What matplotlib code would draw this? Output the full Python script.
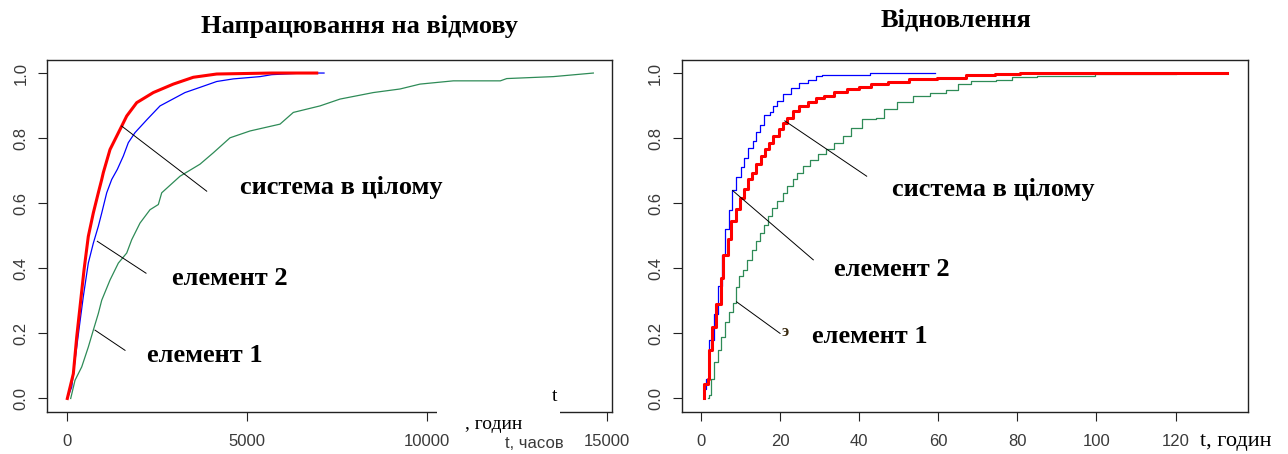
import numpy as np
import matplotlib.pyplot as plt
from matplotlib.patches import Rectangle

# ---- left panel: time to failure (ECDF), hours ----
sys_t = [0, 167, 261, 353, 464, 583, 722, 861, 956, 1000, 1186, 1511, 1650, 1928, 2389, 2944,
         3500, 4150, 5678, 6928]
sys_F = [0, 0.076, 0.189, 0.282, 0.395, 0.498, 0.57, 0.632, 0.673, 0.694, 0.765, 0.837, 0.868,
         0.909, 0.940, 0.966, 0.987, 0.997, 1.0, 1.0]

el2_t = [0, 122, 214, 333, 444, 583, 722, 861, 956, 1094, 1233, 1389, 1556, 1694, 1881, 2222,
         2575, 3269, 3686, 4150, 4611, 5353, 5678, 6556, 7131]
el2_F = [0, 0.035, 0.117, 0.22, 0.313, 0.416, 0.477, 0.529, 0.57, 0.632, 0.673, 0.704, 0.745,
         0.786, 0.817, 0.858, 0.899, 0.94, 0.956, 0.974, 0.982, 0.989, 0.995, 1.0, 1.0]

el1_t = [94, 214, 400, 583, 722, 861, 956, 1186, 1417, 1650, 1789, 2019, 2297, 2528, 2622, 3131,
         3686, 4056, 4519, 5075, 5908, 6278, 7019, 7575, 8500, 9242, 9797, 10722, 12028, 12206,
         13500, 14611]
el1_F = [0, 0.056, 0.097, 0.158, 0.21, 0.261, 0.302, 0.364, 0.416, 0.447, 0.488, 0.539, 0.58,
         0.596, 0.632, 0.683, 0.72, 0.755, 0.801, 0.822, 0.843, 0.879, 0.899, 0.92, 0.94, 0.951,
         0.966, 0.976, 0.976, 0.983, 0.989, 1.0]

# ---- right panel: recovery time (ECDF steps), hours ----
rsys_t = [0.8, 1.8, 2.0, 2.9, 3.9, 5.0, 5.6, 6.8, 7.6, 8.9, 9.9, 10.8, 11.8, 12.9, 13.9, 15.2, 16.2,
          17.3, 18.3, 19.7, 20.7, 21.7, 23.3, 24.9, 27, 29, 31.1, 33.7, 36.9, 40, 43.1, 47.3, 52.5,
          59.8, 67.1, 74.4, 80.7, 133]
rsys_F = [0.046, 0.06, 0.15, 0.22, 0.29, 0.37, 0.44, 0.49, 0.545, 0.583, 0.617, 0.644, 0.673, 0.694,
          0.72, 0.745, 0.766, 0.786, 0.805, 0.827, 0.846, 0.863, 0.884, 0.899, 0.91, 0.922, 0.93,
          0.942, 0.95, 0.958, 0.966, 0.973, 0.981, 0.986, 0.993, 0.996, 1.0, 1.0]

rel2_t = [0.7, 1.3, 2.1, 3.2, 4.2, 5.3, 6.0, 7.0, 7.8, 8.8, 10.2, 10.9, 12, 13.1, 14, 14.9, 15.9, 17.5,
          18.3, 19.1, 20.7, 22.8, 24.9, 27, 29, 30.6, 42.7, 59.1]
rel2_F = [0.03, 0.06, 0.18, 0.26, 0.345, 0.44, 0.52, 0.58, 0.64, 0.68, 0.71, 0.74, 0.77, 0.79, 0.82,
          0.84, 0.87, 0.88, 0.90, 0.915, 0.935, 0.955, 0.97, 0.98, 0.99, 0.994, 1.0, 1.0]

rel1_t = [1.9, 2.1, 2.5, 3.4, 4.2, 5.0, 6.0, 7.0, 8.1, 8.9, 9.6, 10.7, 11.7, 12.8, 13.8, 14.9, 15.9, 17,
          18, 19.1, 20.7, 21.7, 23.3, 24.4, 25.9, 27.5, 29.6, 31.7, 33.7, 35.8, 37.9, 40.6, 44.2, 46.3,
          49.5, 53.7, 57.8, 62, 65.1, 68.3, 74.5, 78.7, 85, 99.6, 120]
rel1_F = [0.0, 0.01, 0.06, 0.113, 0.15, 0.19, 0.236, 0.267, 0.293, 0.342, 0.375, 0.396, 0.427, 0.457,
          0.483, 0.509, 0.534, 0.56, 0.586, 0.606, 0.632, 0.653, 0.673, 0.694, 0.714, 0.732, 0.75,
          0.766, 0.786, 0.807, 0.832, 0.858, 0.863, 0.889, 0.91, 0.93, 0.94, 0.949, 0.966, 0.976,
          0.978, 0.987, 0.992, 0.996, 0.996]

red = '#ff0000'
blue = '#0000ff'
green = '#2e8b57'
tick_col = '#3a3a3a'
serif = 'Liberation Serif'
sans = 'Liberation Sans'

fig = plt.figure(figsize=(12.88, 4.54), dpi=100)
ax1 = fig.add_axes([0.0365, 0.0936, 0.4387, 0.7742])
ax2 = fig.add_axes([0.5295, 0.0936, 0.4394, 0.7742])


def style(ax):
    for s in ax.spines.values():
        s.set_color('#222222')
        s.set_linewidth(1.0)
    ax.tick_params(direction='out', length=6.5, width=0.8, color='#222222',
                   labelsize=12, labelcolor=tick_col)
    ax.tick_params(axis='x', pad=10)
    ax.tick_params(axis='y', pad=7)
    ax.set_yticks([0, 0.2, 0.4, 0.6, 0.8, 1.0])
    ax.set_yticklabels(['0.0', '0.2', '0.4', '0.6', '0.8', '1.0'], rotation=90, va='center',
                       family=sans)
    for lab in ax.get_xticklabels():
        lab.set_family(sans)
    ax.set_ylim(-0.04, 1.04)


# left
ax1.plot(el1_t, el1_F, color=green, lw=0.9)
ax1.plot(el2_t, el2_F, color=blue, lw=0.9)
ax1.plot(sys_t, sys_F, color=red, lw=2.2)
ax1.set_xlim(-564, 15131)
ax1.set_xticks([0, 5000, 10000, 15000])
style(ax1)
ax1.plot([1511, 3872], [0.837, 0.637], color='black', lw=0.7)
ax1.plot([833, 2186], [0.483, 0.385], color='black', lw=0.7)
ax1.plot([769, 1603], [0.21, 0.148], color='black', lw=0.7)
ax1.text(4797, 0.647, 'система в цілому', family=serif, weight='bold', size=19, va='center')
ax1.text(2900, 0.369, 'елемент 2', family=serif, weight='bold', size=19, va='center')
ax1.text(2222, 0.133, 'елемент 1', family=serif, weight='bold', size=19, va='center')

# gap in the bottom frame with axis caption
ax1.add_patch(Rectangle((0.690, -0.012), 0.217, 0.024, transform=ax1.transAxes,
                        facecolor='white', edgecolor='none', clip_on=False, zorder=5))
ax1.text(0.894, 0.044, 't', transform=ax1.transAxes, family=serif, size=14, va='center', zorder=6)
ax1.text(0.740, -0.038, ', годин', transform=ax1.transAxes, family=serif, size=14, va='center',
         zorder=6)
ax1.text(0.811, -0.09, 't, часов', transform=ax1.transAxes, family=sans, size=12, color=tick_col,
         va='center', zorder=6)

# right
ax2.plot(rel1_t, rel1_F, color=green, lw=0.9, drawstyle='steps-post')
ax2.plot(rel2_t, rel2_F, color=blue, lw=0.9, drawstyle='steps-post')
ax2.plot([rsys_t[0]] + rsys_t, [0] + rsys_F, color=red, lw=2.2, drawstyle='steps-post')
ax2.set_xlim(-4.8, 138.3)
ax2.set_xticks([0, 20, 40, 60, 80, 100, 120])
style(ax2)
ax2.plot([21.2, 41.9], [0.853, 0.683], color='black', lw=0.7)
ax2.plot([8.0, 28.4], [0.639, 0.426], color='black', lw=0.7)
ax2.plot([9.0, 20.0], [0.297, 0.2], color='black', lw=0.7)
ax2.text(20.4, 0.205, 'э', family=serif, weight='bold', size=12, va='center', color='#3a2a10')
ax2.text(48.2, 0.642, 'система в цілому', family=serif, weight='bold', size=19, va='center')
ax2.text(33.7, 0.397, 'елемент 2', family=serif, weight='bold', size=19, va='center')
ax2.text(28.0, 0.191, 'елемент 1', family=serif, weight='bold', size=19, va='center')
ax2.text(0.915, -0.084, 't, годин', transform=ax2.transAxes, family=serif, size=16, va='center')

fig.text(360 / 1288, 1 - 27 / 454, 'Напрацювання на відмову', family=serif, weight='bold',
         size=19, ha='center', va='center')
fig.text(956 / 1288, 1 - 20 / 454, 'Відновлення', family=serif, weight='bold',
         size=19, ha='center', va='center')

fig.savefig('out.png', dpi=100)
